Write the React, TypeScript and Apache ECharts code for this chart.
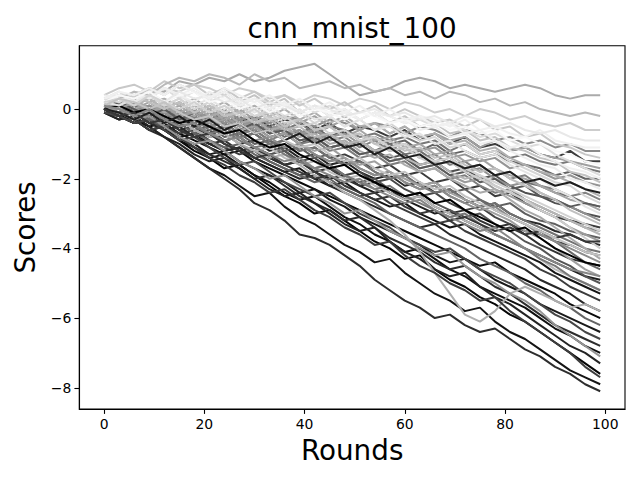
import { useEffect, useRef } from "react";
import * as echarts from "echarts";

const title = "cnn_mnist_100";
const xName = "Rounds";
const yName = "Scores";
const xTicks = [0, 20, 40, 60, 80, 100];
const yTicks = [-8, -6, -4, -2, 0];

const rounds = [0, 3, 6, 9, 12, 15, 18, 21, 24, 27, 30, 33, 36, 39, 42, 45, 48, 51, 54, 57, 60, 63, 66, 69, 72, 75, 78, 81, 84, 87, 90, 93, 96, 99];

// scores in tenths, one array per client run
const s01 = [3,2,4,6,5,8,7,9,8,10, 8,9,11,12,13,10,7,4,5,6, 8,9,8,6,7,6,5,6,7,6, 4,3,4,4];
const s02 = [1,3,5,4,7,9,8,10,9,7, 10,8,9,6,7,8,6,7,5,6, 4,5,3,5,4,2,3,1,2,0, -1,-2,-1,-2];
const s03 = [2,1,4,3,6,5,7,6,4,6, 5,3,4,2,4,3,1,3,2,0, 2,1,-1,0,-2,0,-1,-3,-2,-4, -5,-4,-6,-6];
const s04 = [1,3,2,4,2,5,3,4,2,3, 0,2,1,-1,1,0,-2,-1,0,-2, -1,-3,-2,-4,-2,-3,-5,-4,-6,-7, -6,-8,-9,-9];
const s05 = [3,4,2,5,6,4,6,3,5,2, 3,0,2,-1,1,-1,0,-3,-1,-2, -4,-2,-3,-5,-3,-6,-5,-7,-8,-6, -9,-10,-11,-11];
const s06 = [0,2,0,1,-1,-3,-1,-2,0,-3, -2,-4,-2,-3,-5,-3,-4,-6,-4,-5, -7,-5,-6,-8,-6,-7,-9,-8,-10,-9, -11,-10,-12,-12];
const s07 = [4,6,7,5,8,6,7,4,6,3, 5,2,4,1,3,0,2,-1,1,-2, 0,-2,-4,-3,-5,-3,-6,-5,-8,-7, -10,-11,-13,-14];
const s08 = [1,0,2,-1,1,-2,0,-3,-1,-4, -2,-5,-3,-4,-6,-4,-7,-5,-6,-8, -6,-9,-7,-10,-8,-11,-10,-12,-11,-13, -14,-12,-15,-15];
const s09 = [2,4,3,5,2,4,5,2,3,0, 2,-1,1,-2,0,-1,-3,-1,-2,-4, -3,-5,-4,-6,-5,-7,-6,-9,-8,-10, -12,-13,-15,-16];
const s10 = [0,2,1,3,0,2,-1,1,-2,0, -3,-1,-2,-4,-2,-5,-3,-6,-4,-7, -5,-8,-7,-9,-8,-11,-9,-12,-11,-13, -14,-15,-16,-17];
const s11 = [1,2,-1,1,-2,0,-3,-1,-4,-2, -5,-3,-6,-4,-7,-5,-6,-8,-7,-9, -8,-10,-9,-12,-10,-13,-12,-14,-13,-15, -16,-15,-17,-18];
const s12 = [3,2,5,4,6,3,5,2,4,1, 3,2,0,2,-1,1,-1,-3,-1,-2, -4,-3,-5,-4,-6,-8,-7,-9,-11,-10, -13,-15,-17,-19];
const s13 = [0,-1,1,-1,0,-2,-1,-4,-2,-5, -3,-6,-4,-7,-5,-8,-6,-9,-8,-10, -9,-12,-10,-13,-12,-14,-13,-15,-16,-17, -19,-18,-20,-20];
const s14 = [2,4,3,6,4,7,5,3,5,2, 4,1,3,-1,1,-2,0,-3,-1,-4, -2,-5,-4,-7,-6,-9,-8,-11,-12,-14, -15,-18,-19,-21];
const s15 = [1,0,2,-1,1,-2,0,-3,-2,-5, -3,-6,-4,-7,-6,-8,-7,-10,-8,-11, -10,-12,-11,-14,-13,-15,-14,-17,-16,-18, -20,-19,-21,-22];
const s16 = [4,3,5,3,6,4,2,5,3,1, 3,0,2,-1,1,-2,-1,-3,-1,-4, -3,-6,-5,-8,-7,-10,-9,-12,-14,-16, -17,-20,-21,-23];
const s17 = [0,-1,-3,-1,-4,-2,-5,-3,-6,-4, -7,-6,-9,-7,-10,-8,-11,-10,-13,-11, -14,-13,-16,-15,-17,-16,-19,-18,-21,-20, -22,-21,-23,-24];
const s18 = [2,1,4,2,3,1,3,0,2,-1, 1,-2,0,-3,-1,-4,-2,-5,-4,-7, -5,-8,-7,-10,-9,-12,-11,-14,-16,-18, -19,-21,-23,-25];
const s19 = [1,0,-2,1,-1,-3,-1,-4,-2,-5, -4,-7,-5,-8,-6,-9,-8,-11,-9,-12, -11,-14,-13,-16,-15,-18,-17,-20,-19,-22, -23,-25,-24,-26];
const s20 = [3,5,2,4,1,3,0,2,-1,1, -2,0,-3,-1,-4,-2,-5,-3,-6,-4, -7,-9,-8,-11,-10,-13,-12,-15,-17,-19, -21,-22,-25,-27];
const s21 = [0,1,-2,0,-3,-1,-4,-2,-5,-3, -6,-5,-8,-6,-9,-7,-10,-9,-12,-10, -13,-12,-15,-14,-17,-16,-19,-18,-21,-22, -24,-25,-27,-28];
const s22 = [2,3,0,2,-1,1,-2,0,-3,-1, -4,-2,-5,-3,-6,-5,-8,-6,-9,-8, -11,-10,-13,-12,-15,-14,-17,-19,-20,-22, -24,-26,-27,-29];
const s23 = [2,1,3,5,2,4,1,3,0,2, -1,1,-2,0,-3,-2,-5,-3,-6,-5, -8,-7,-10,-9,-12,-14,-13,-16,-18,-20, -23,-25,-28,-30];
const s24 = [0,-2,0,-3,-1,-4,-2,-5,-4,-7, -5,-8,-7,-10,-8,-11,-10,-13,-12,-14, -13,-16,-15,-18,-17,-20,-19,-22,-24,-25, -27,-28,-30,-31];
const s25 = [1,2,0,1,-2,0,-3,-1,-4,-3, -6,-4,-7,-6,-9,-7,-10,-9,-12,-11, -14,-13,-16,-15,-18,-17,-20,-22,-21,-24, -26,-28,-30,-32];
const s26 = [3,2,4,2,0,2,-1,1,-2,-1, -4,-2,-5,-3,-6,-5,-8,-7,-10,-9, -12,-11,-14,-13,-16,-18,-17,-20,-22,-24, -26,-29,-31,-33];
const s27 = [-1,-2,-1,-4,-2,-5,-4,-7,-5,-8, -7,-10,-9,-12,-11,-14,-13,-15,-17,-16, -19,-18,-21,-20,-23,-22,-25,-24,-27,-29, -31,-32,-33,-34];
const s28 = [1,0,-1,-3,-1,-4,-2,-5,-4,-7, -6,-9,-7,-10,-9,-12,-11,-14,-13,-16, -15,-18,-17,-20,-19,-22,-24,-23,-26,-28, -30,-32,-34,-35];
const s29 = [2,3,1,3,0,2,-1,1,-2,-1, -4,-3,-6,-5,-8,-7,-10,-9,-12,-11, -14,-16,-15,-18,-20,-19,-22,-24,-26,-28, -30,-32,-34,-36];
const s30 = [0,-1,-3,-1,-4,-3,-6,-5,-8,-7, -10,-9,-12,-11,-14,-13,-16,-15,-18,-20, -19,-22,-21,-24,-23,-26,-28,-27,-30,-32, -33,-35,-36,-37];
const s31 = [1,2,0,-1,1,-2,-1,-4,-2,-5, -4,-7,-6,-9,-8,-11,-10,-13,-12,-15, -14,-17,-16,-19,-21,-20,-23,-25,-27,-29, -31,-34,-36,-38];
const s32 = [0,-2,-1,-4,-3,-6,-5,-8,-7,-10, -9,-12,-11,-14,-13,-16,-15,-18,-20,-19, -22,-21,-24,-23,-26,-28,-27,-30,-32,-33, -35,-36,-38,-39];
const s33 = [3,4,2,4,1,3,0,2,-1,1, -2,-1,-4,-3,-6,-5,-8,-7,-10,-12, -11,-14,-16,-15,-18,-20,-22,-24,-26,-29, -31,-34,-37,-40];
const s34 = [0,1,-1,-3,-1,-4,-3,-6,-5,-8, -7,-10,-9,-12,-11,-14,-16,-15,-18,-20, -19,-22,-24,-23,-26,-28,-27,-30,-32,-34, -36,-38,-40,-41];
const s35 = [0,-1,-3,-2,-5,-4,-7,-6,-9,-8, -11,-13,-12,-15,-14,-17,-19,-18,-21,-20, -23,-25,-24,-27,-29,-28,-31,-33,-35,-36, -38,-39,-41,-42];
const s36 = [2,1,3,0,2,-1,1,-2,-1,-4, -3,-6,-5,-8,-7,-10,-9,-12,-14,-13, -16,-18,-17,-20,-22,-24,-23,-26,-29,-31, -34,-37,-40,-43];
const s37 = [1,0,-2,0,-3,-2,-5,-4,-7,-6, -9,-8,-11,-10,-13,-15,-14,-17,-19,-18, -21,-23,-22,-25,-27,-29,-28,-31,-33,-36, -38,-40,-42,-44];
const s38 = [-1,-2,-4,-3,-6,-5,-8,-10,-9,-12, -11,-14,-16,-15,-18,-17,-20,-22,-21,-24, -26,-25,-28,-30,-29,-32,-34,-33,-36,-39, -41,-43,-44,-45];
const s39 = [0,-1,1,-2,0,-3,-2,-5,-4,-7, -6,-9,-11,-10,-13,-15,-14,-17,-19,-18, -21,-23,-22,-25,-27,-26,-29,-31,-33,-35, -38,-41,-44,-46];
const s40 = [2,0,2,-1,1,-2,-1,-4,-3,-6, -5,-8,-7,-10,-12,-11,-14,-16,-15,-18, -20,-22,-21,-24,-26,-28,-30,-32,-35,-37, -40,-43,-46,-48];
const s41 = [0,-2,-1,-4,-3,-6,-8,-7,-10,-12, -11,-14,-16,-15,-18,-20,-19,-22,-24,-23, -26,-28,-30,-29,-32,-34,-36,-38,-40,-42, -44,-46,-48,-49];
const s42 = [1,0,-1,-3,-2,-5,-4,-7,-9,-8, -11,-13,-12,-15,-17,-16,-19,-21,-20,-23, -25,-24,-27,-29,-31,-30,-33,-35,-38,-40, -43,-45,-48,-50];
const s43 = [0,-1,-3,-1,-4,-3,-6,-8,-7,-10, -12,-11,-14,-16,-15,-18,-20,-19,-22,-24, -26,-25,-28,-30,-32,-34,-36,-38,-40,-43, -46,-48,-50,-52];
const s44 = [-1,-2,-4,-3,-6,-8,-7,-10,-12,-11, -14,-16,-18,-17,-20,-22,-21,-24,-26,-28, -27,-30,-32,-34,-33,-36,-38,-40,-42,-44, -47,-49,-51,-53];
const s45 = [0,-1,-3,-2,-5,-7,-6,-9,-11,-13, -12,-15,-17,-19,-18,-21,-23,-25,-24,-27, -29,-31,-33,-32,-35,-37,-39,-41,-43,-46, -48,-51,-53,-55];
const s46 = [1,0,-2,-1,-4,-3,-6,-8,-7,-10, -12,-14,-13,-16,-19,-21,-24,-26,-29,-32, -36,-41,-47,-53,-59,-61,-58,-53,-51,-53, -55,-57,-56,-58];
const s47 = [0,-2,-1,-4,-6,-5,-8,-10,-12,-11, -14,-16,-18,-20,-19,-22,-24,-26,-28,-30, -32,-34,-33,-36,-38,-40,-42,-44,-46,-49, -51,-53,-56,-58];
const s48 = [0,-1,-3,-5,-4,-7,-9,-11,-13,-12, -15,-17,-19,-21,-23,-25,-27,-29,-31,-33, -35,-37,-39,-41,-43,-45,-44,-47,-49,-51, -53,-56,-58,-60];
const s49 = [1,-1,0,-3,-5,-4,-7,-9,-11,-10, -13,-15,-17,-19,-21,-20,-23,-25,-27,-30, -32,-34,-36,-38,-40,-43,-45,-47,-50,-52, -55,-57,-60,-62];
const s50 = [0,-2,-3,-6,-5,-8,-10,-13,-12,-15, -17,-19,-21,-24,-23,-26,-28,-31,-33,-35, -37,-39,-42,-44,-43,-46,-49,-51,-53,-56, -58,-60,-62,-64];
const s51 = [-1,-2,-4,-3,-6,-9,-8,-11,-14,-16, -15,-18,-21,-23,-25,-24,-27,-30,-32,-34, -37,-39,-41,-40,-43,-46,-48,-50,-53,-56, -59,-61,-64,-66];
const s52 = [0,-1,-3,-6,-5,-8,-11,-13,-15,-17, -20,-19,-22,-25,-27,-29,-32,-31,-34,-37, -39,-41,-44,-46,-45,-48,-51,-53,-56,-59, -62,-64,-66,-68];
const s53 = [0,-2,-4,-3,-6,-9,-11,-14,-13,-16, -19,-21,-24,-26,-25,-28,-31,-33,-36,-38, -41,-40,-43,-46,-48,-51,-53,-55,-57,-60, -63,-65,-68,-70];
const s54 = [1,-1,-3,-2,-5,-8,-10,-9,-12,-15, -17,-20,-19,-22,-25,-27,-30,-29,-32,-35, -37,-40,-42,-41,-45,-48,-50,-53,-55,-58, -62,-65,-68,-71];
const s55 = [-1,-3,-2,-5,-8,-10,-13,-15,-14,-17, -20,-23,-25,-24,-27,-30,-33,-35,-34,-38, -41,-43,-46,-48,-47,-51,-54,-56,-59,-62, -65,-68,-70,-73];
const s56 = [0,-2,-4,-3,-6,-9,-12,-14,-17,-16, -19,-22,-25,-27,-30,-29,-32,-35,-38,-40, -43,-42,-46,-49,-51,-54,-56,-59,-61,-64, -67,-70,-73,-76];
const s57 = [0,-1,-3,-6,-5,-8,-11,-14,-16,-19, -21,-24,-23,-26,-29,-31,-34,-36,-39,-38, -42,-45,-47,-50,-52,-55,-54,-58,-61,-64, -67,-70,-74,-77];
const s58 = [-1,-3,-2,-5,-8,-11,-14,-17,-19,-22, -25,-24,-28,-31,-33,-36,-39,-41,-44,-43, -47,-50,-53,-55,-58,-57,-61,-64,-66,-69, -72,-75,-77,-79];
const s59 = [0,-1,-3,-6,-8,-11,-14,-17,-20,-23, -27,-29,-32,-36,-37,-39,-42,-45,-49,-52, -55,-57,-60,-59,-62,-64,-63,-66,-69,-71, -74,-76,-79,-81];
const s60 = [0,1,-1,0,-2,-4,-3,-5,-7,-6, -9,-11,-10,-13,-15,-17,-16,-19,-21,-23, -25,-24,-27,-26,-29,-31,-33,-35,-34,-37, -40,-42,-44,-45];
const s61 = [2,3,1,4,2,0,2,-1,1,-2, 0,-3,-2,-5,-4,-7,-6,-9,-8,-11, -10,-13,-15,-14,-17,-19,-21,-23,-25,-27, -29,-31,-33,-35];
const s62 = [0,2,0,-2,0,-3,-1,-4,-3,-6, -4,-7,-6,-9,-8,-11,-10,-13,-12,-15, -14,-17,-16,-19,-18,-21,-20,-23,-22,-25, -26,-28,-27,-28];
const s63 = [3,5,4,6,4,7,5,3,6,4, 2,4,1,3,0,2,-1,1,-2,0, -3,-2,-5,-4,-7,-6,-9,-11,-10,-13, -15,-17,-18,-20];
const s64 = [0,-1,-3,-1,-4,-2,-5,-7,-6,-9, -11,-10,-13,-15,-17,-16,-19,-21,-23,-22, -25,-27,-29,-31,-30,-33,-36,-38,-40,-43, -45,-48,-50,-52];
const s65 = [0,-2,-1,-4,-3,-6,-8,-7,-10,-12, -14,-13,-16,-18,-20,-19,-22,-24,-26,-25, -28,-30,-29,-32,-31,-33,-35,-34,-36,-35, -37,-36,-38,-38];
const s66 = [1,3,2,0,2,-1,-3,-2,-5,-4, -7,-6,-9,-11,-10,-13,-15,-14,-17,-19, -18,-21,-23,-22,-25,-27,-29,-31,-33,-35, -37,-39,-41,-42];
const s67 = [1,0,-2,0,-3,-5,-4,-7,-9,-8, -11,-13,-15,-14,-17,-19,-21,-20,-23,-25, -27,-26,-29,-31,-33,-35,-34,-37,-40,-42, -44,-46,-47,-48];

const runs = [s01,s02,s03,s04,s05,s06,s07,s08,s09,s10,s11,s12,s13,s14,s15,s16,s17,s18,s19,s20,
  s21,s22,s23,s24,s25,s26,s27,s28,s29,s30,s31,s32,s33,s34,s35,s36,s37,s38,s39,s40,
  s41,s42,s43,s44,s45,s46,s47,s48,s49,s50,s51,s52,s53,s54,s55,s56,s57,s58,s59,s60,
  s61,s62,s63,s64,s65,s66,s67];

// gray level (0-255) of each run
const grays = [170,185,205,232,240,140,200,60,248,160, 120,220,100,195,150,238,30,175,130,214,
  110,165,228,80,145,192,60,125,182,95, 155,40,205,115,70,170,140,50,105,160,
  30,85,185,20,60,175,40,10,100,25, 70,45,15,150,35,5,60,20,45,0,
  210,90,240,120,55,195,135];

// drawing order (mixed, like the reference)
const order = [56,48,41,53,44,58,32,50,27,38,24,52,59,35,45,8,30,42,13,
  21,47,11,55,39,51,28,19,34,43,6,49,25,37,15,31,46,10,22,36,62,64,
  40,18,29,1,33,14,26,3,12,20,7,60,23,5,16,2,9,57,54,4,61,63,17,65,66,67];

const FONT = "DejaVu Sans";
const fmt = (v: number) => (v < 0 ? "\u2212" + Math.abs(v) : String(v));

export default function App() {
  const ref = useRef<HTMLDivElement>(null);
  useEffect(() => {
    if (!ref.current) return;
    const chart = echarts.init(ref.current, null, { renderer: "svg" });
    const series = order.map((k) => {
      const s = runs[k - 1];
      const g = grays[k - 1];
      return {
        type: "line",
        data: rounds.map((r, i) => [r, s[i] / 10]),
        showSymbol: false,
        symbol: "none",
        silent: true,
        lineStyle: { width: 2, color: `rgb(${g},${g},${g})` },
      };
    });
    chart.setOption({
      animation: false,
      backgroundColor: "#fff",
      graphic: [
        {
          type: "text",
          x: 352,
          y: 14,
          style: { text: title, font: `27.8px '${FONT}'`, fill: "#000", textAlign: "center", textVerticalAlign: "top" },
        },
      ],
      grid: { left: 79.3, top: 45.7, width: 545.7, height: 363.3, show: true, borderColor: "#000", borderWidth: 1.1, containLabel: false },
      xAxis: {
        type: "value",
        min: -4.95,
        max: 103.95,
        name: xName,
        nameLocation: "middle",
        nameGap: 27,
        nameTextStyle: { fontFamily: FONT, fontSize: 27.8, color: "#000" },
        axisLine: { show: true, onZero: false, lineStyle: { color: "#000", width: 1.1 } },
        axisTick: { show: true, inside: false, length: 4.9, customValues: xTicks, lineStyle: { color: "#000", width: 1.1 } },
        axisLabel: { customValues: xTicks, margin: 8, fontFamily: FONT, fontSize: 13.9, color: "#000", formatter: (v: number) => fmt(v) },
        splitLine: { show: false },
      },
      yAxis: {
        type: "value",
        min: -8.61,
        max: 1.82,
        name: yName,
        nameLocation: "middle",
        nameGap: 36,
        nameTextStyle: { fontFamily: FONT, fontSize: 27.8, color: "#000" },
        axisLine: { show: true, onZero: false, lineStyle: { color: "#000", width: 1.1 } },
        axisTick: { show: true, inside: false, length: 4.9, customValues: yTicks, lineStyle: { color: "#000", width: 1.1 } },
        axisLabel: { customValues: yTicks, margin: 8, fontFamily: FONT, fontSize: 13.9, color: "#000", formatter: (v: number) => fmt(v) },
        splitLine: { show: false },
      },
      series,
    });
    return () => chart.dispose();
  }, []);
  return <div ref={ref} style={{ position: "fixed", left: 0, top: 0, width: 640, height: 480, background: "#fff" }} />;
}
